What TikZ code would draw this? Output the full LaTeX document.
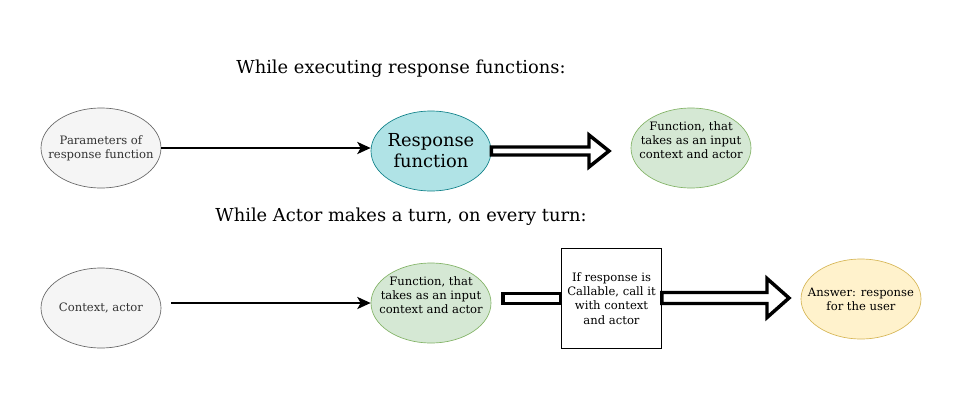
\documentclass[tikz,border=0pt]{standalone}
\usepackage{fontspec}
\setmainfont{DejaVu Serif}
\usetikzlibrary{calc,arrows.meta,shapes.geometric}
\definecolor{grayfill}{HTML}{F5F5F5}
\definecolor{graystroke}{HTML}{666666}
\definecolor{cyanfill}{HTML}{B0E3E6}
\definecolor{cyanstroke}{HTML}{0E8088}
\definecolor{greenfill}{HTML}{D5E8D4}
\definecolor{greenstroke}{HTML}{82B366}
\definecolor{yellowfill}{HTML}{FFF2CC}
\definecolor{yellowstroke}{HTML}{D6B656}
\definecolor{txtgray}{HTML}{333333}
\tikzset{
  smalltext/.style={font=\fontsize{8.7}{10.6}\selectfont, align=center},
  oval/.style={ellipse, minimum width=90pt, minimum height=60pt, inner sep=0pt, line width=0.5pt},
  grayoval/.style={oval, draw=graystroke, fill=grayfill},
  cyanoval/.style={oval, draw=cyanstroke, fill=cyanfill},
  greenoval/.style={oval, draw=greenstroke, fill=greenfill},
  yellowoval/.style={oval, draw=yellowstroke, fill=yellowfill},
  ovaltext/.style={smalltext, inner sep=0pt},
  callbox/.style={draw=black, fill=white, line width=0.6pt, minimum width=75pt, minimum height=75pt, inner sep=0pt, smalltext},
  title/.style={font=\fontsize{13.4}{15}\selectfont},
  plainarrow/.style={line width=1.8pt, -{Stealth[length=10pt,width=9pt,inset=2.5pt]}},
  flexarrow/.style={draw=black, fill=white, line width=2.6pt, line join=miter, miter limit=10},
}
\begin{document}
\begin{tikzpicture}[x=0.75pt,y=-0.75pt]
\useasboundingbox (0,0) rectangle (974,404);
% titles
\node[title] (t1) at (401,69) {While executing response functions:};
\node[title] (t2) at (401,217) {While Actor makes a turn, on every turn:};
% top row
\node[grayoval] (p) at (101,148) {};
\node[ovaltext, text=txtgray] (pt) at (p) {Parameters of\\response function};
\node[cyanoval] (rf) at (431,151) {};
\node[ovaltext, font=\fontsize{13.4}{15.75}\selectfont] (rft) at (rf) {Response\\function};
\node[greenoval] (f1) at (691,148) {};
\node[ovaltext] (f1t) at (691,140) {Function, that\\takes as an input\\context and actor};
\draw[plainarrow] (p.east) -- (p.east -| rf.west);
% flex arrow top
\coordinate (s1) at (rf.east);
\coordinate (e1) at (609,151);
\draw[flexarrow] ($(s1)+(0,-4)$) -- ($(e1)+(-20,-4)$) -- ($(e1)+(-20,-16)$) -- (e1)
  -- ($(e1)+(-20,16)$) -- ($(e1)+(-20,4)$) -- ($(s1)+(0,4)$) -- cycle;
% bottom row
\node[grayoval] (c) at (101,308) {};
\node[ovaltext, text=txtgray] (ct) at (c) {Context, actor};
\node[greenoval] (f2) at (431,303) {};
\node[ovaltext] (f2t) at (431,295) {Function, that\\takes as an input\\context and actor};
\coordinate (cs) at (171,303);
\draw[plainarrow] (cs) -- (f2.west);
\node[yellowoval] (ans) at (861,299) {};
\node[ovaltext] (anst) at (ans) {Answer: response\\for the user};
% left flex arrow (head hidden by box)
\coordinate (s2) at (503,298.5);
\coordinate (bw) at (561,298.5);
\draw[flexarrow] ($(s2)+(0,-5)$) -- ($(bw)+(0,-5)$) -- ($(bw)+(0,5)$) -- ($(s2)+(0,5)$) -- cycle;
\node[callbox] (cb) at (611.5,298.5) {If response is\\Callable, call it\\with context\\and actor};
% right flex arrow
\coordinate (s3) at (cb.east |- 0,298);
\coordinate (e3) at (789,298);
\draw[flexarrow] ($(s3)+(0,-5.5)$) -- ($(e3)+(-22,-5.5)$) -- ($(e3)+(-22,-19.5)$) -- (e3)
  -- ($(e3)+(-22,19.5)$) -- ($(e3)+(-22,5.5)$) -- ($(s3)+(0,5.5)$) -- cycle;
\end{tikzpicture}
\end{document}
